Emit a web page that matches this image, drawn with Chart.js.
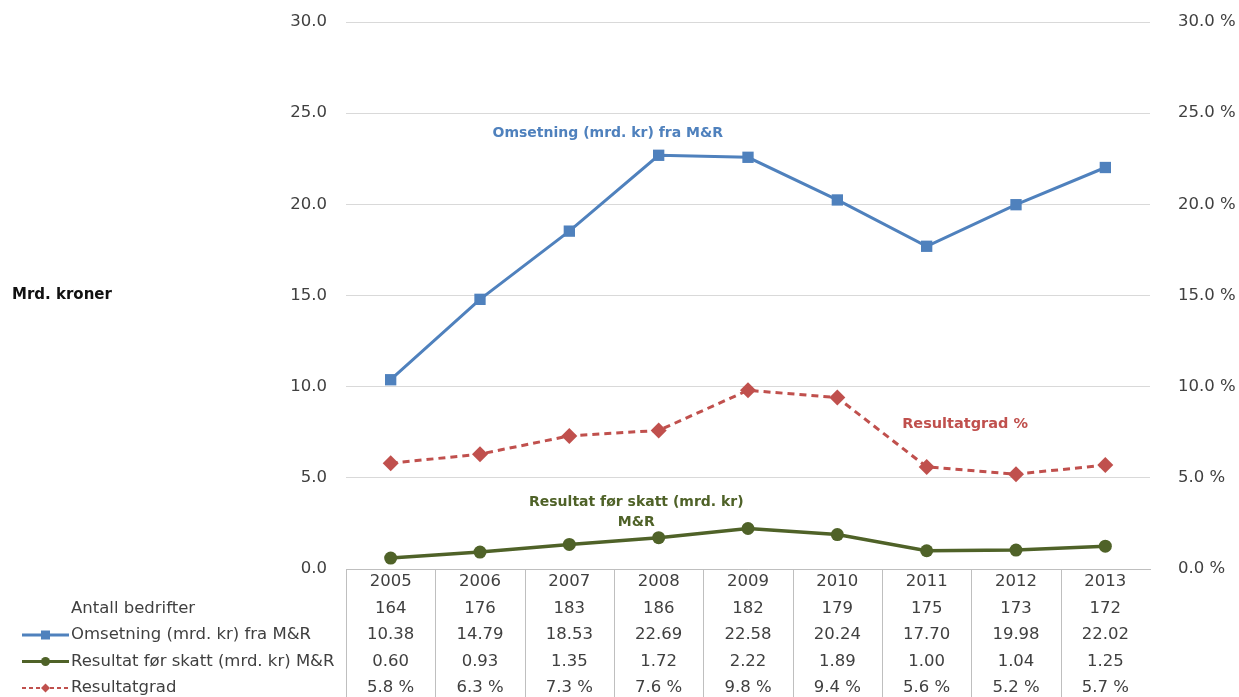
<!DOCTYPE html>
<html>
<head>
<meta charset="utf-8">
<script src="https://cdn.jsdelivr.net/npm/chart.js@4.4.1/dist/chart.umd.min.js"></script>
<style>
  html, body { margin: 0; padding: 0; background: #fff; }
  #wrap { width: 1239px; height: 697px; }
</style>
</head>
<body>
<div id="wrap"><canvas id="myChart" width="1239" height="697"></canvas></div>
<script>
  let years = ["2005", "2006", "2007", "2008", "2009", "2010", "2011", "2012", "2013"];
  let antall = [164, 176, 183, 186, 182, 179, 175, 173, 172];
  let omsetning = [10.38, 14.79, 18.53, 22.69, 22.58, 20.24, 17.70, 19.98, 22.02];
  let resultat = [0.60, 0.93, 1.35, 1.72, 2.22, 1.89, 1.00, 1.04, 1.25];
  let resultatgrad = [5.8, 6.3, 7.3, 7.6, 9.8, 9.4, 5.6, 5.2, 5.7];

  let blue = "#4f81bd";
  let green = "#4f6228";
  let red = "#c0504d";
  let textColor = "#404040";
  let fontFamily = "'DejaVu Sans', sans-serif";

  // table under the plot + series labels inside the plot
  let tablePlugin = {
    id: "tablePlugin",
    afterDraw(chart) {
      let ctx = chart.ctx;
      let x = chart.scales.x;
      let y = chart.scales.y;
      let area = chart.chartArea;
      let step = x.getPixelForValue(1) - x.getPixelForValue(0);
      ctx.save();

      // column separators
      ctx.strokeStyle = "#bfbfbf";
      ctx.lineWidth = 1;
      for (let i = 0; i < years.length; i++) {
        let lx = Math.round(x.getPixelForValue(i) - step / 2) + 0.5;
        ctx.beginPath();
        ctx.moveTo(lx, area.bottom);
        ctx.lineTo(lx, chart.height);
        ctx.stroke();
      }

      let rows = [
        { label: "", values: years },
        { label: "Antall bedrifter", values: antall.map(String) },
        { label: "Omsetning (mrd. kr) fra M&R", values: omsetning.map(v => v.toFixed(2)), key: "square", color: blue },
        { label: "Resultat før skatt (mrd. kr) M&R", values: resultat.map(v => v.toFixed(2)), key: "circle", color: green },
        { label: "Resultatgrad", values: resultatgrad.map(v => v.toFixed(1) + " %"), key: "diamond", color: red }
      ];
      ctx.font = "16.5px " + fontFamily;
      ctx.fillStyle = textColor;
      ctx.textBaseline = "middle";
      rows.forEach((row, r) => {
        let ry = area.bottom + 13 + r * 26.5;
        ctx.textAlign = "center";
        ctx.fillStyle = textColor;
        row.values.forEach((v, i) => ctx.fillText(v, x.getPixelForValue(i), ry));
        ctx.textAlign = "left";
        ctx.fillText(row.label, 71, ry);
        if (row.key) {
          ctx.strokeStyle = row.color;
          ctx.fillStyle = row.color;
          ctx.lineWidth = row.key === "diamond" ? 2 : 3;
          ctx.setLineDash(row.key === "diamond" ? [4, 3] : []);
          ctx.beginPath();
          ctx.moveTo(22, ry);
          ctx.lineTo(69, ry);
          ctx.stroke();
          ctx.setLineDash([]);
          ctx.beginPath();
          if (row.key === "square") {
            ctx.rect(41, ry - 4.5, 9, 9);
          } else if (row.key === "circle") {
            ctx.arc(45.5, ry, 4.5, 0, Math.PI * 2);
          } else {
            ctx.moveTo(45.5, ry - 4.5);
            ctx.lineTo(50, ry);
            ctx.lineTo(45.5, ry + 4.5);
            ctx.lineTo(41, ry);
            ctx.closePath();
          }
          ctx.fill();
        }
      });

      // axis title
      ctx.fillStyle = "#111";
      ctx.font = "bold 15px " + fontFamily;
      ctx.textAlign = "left";
      ctx.fillText("Mrd. kroner", 12, y.getPixelForValue(15));

      // series labels
      ctx.textAlign = "center";
      ctx.font = "bold 14px " + fontFamily;
      ctx.fillStyle = blue;
      ctx.fillText("Omsetning (mrd. kr) fra M&R", x.getPixelForValue(2.43), y.getPixelForValue(23.9));
      ctx.fillStyle = red;
      ctx.font = "bold 14.5px " + fontFamily;
      ctx.fillText("Resultatgrad %", x.getPixelForValue(6.43), y.getPixelForValue(7.95));
      ctx.fillStyle = green;
      ctx.font = "bold 14px " + fontFamily;
      ctx.fillText("Resultat før skatt (mrd. kr)", x.getPixelForValue(2.75), y.getPixelForValue(3.67));
      ctx.fillText("M&R", x.getPixelForValue(2.75), y.getPixelForValue(2.58));
      ctx.restore();
    }
  };

  // keep tick padding from pushing the plot area down
  function fixVertical(width) {
    return function (scale) {
      scale.width = width;
      scale.paddingTop = 0;
      scale.paddingBottom = 0;
    };
  }

  let ctx = document.getElementById("myChart").getContext("2d");
  let chart = new Chart(ctx, {
    type: "line",
    data: {
      labels: years,
      datasets: [
        {
          label: "Omsetning (mrd. kr) fra M&R",
          data: omsetning,
          yAxisID: "y",
          borderColor: blue,
          backgroundColor: blue,
          borderWidth: 3,
          pointStyle: "rect",
          pointRadius: 8,
          pointBorderWidth: 0
        },
        {
          label: "Resultat før skatt (mrd. kr) M&R",
          data: resultat,
          yAxisID: "y",
          borderColor: green,
          backgroundColor: green,
          borderWidth: 3.5,
          pointStyle: "circle",
          pointRadius: 6.5,
          pointBorderWidth: 0
        },
        {
          label: "Resultatgrad",
          data: resultatgrad,
          yAxisID: "y1",
          borderColor: red,
          backgroundColor: red,
          borderWidth: 3,
          borderDash: [7, 5],
          pointStyle: "rectRot",
          pointRadius: 8,
          pointBorderWidth: 0
        }
      ]
    },
    options: {
      responsive: false,
      animation: false,
      layout: { padding: { top: 22, bottom: 0, left: 0, right: 0 } },
      plugins: {
        legend: { display: false },
        tooltip: { enabled: false }
      },
      scales: {
        x: {
          offset: true,
          grid: { display: false, drawTicks: false },
          border: { color: "#bfbfbf" },
          ticks: { display: false },
          afterFit(scale) { scale.height = 128; }
        },
        y: {
          position: "left",
          min: 0,
          max: 30,
          ticks: {
            stepSize: 5,
            padding: 19,
            color: textColor,
            font: { size: 16.5, family: fontFamily },
            callback: v => v.toFixed(1)
          },
          grid: { color: "#d9d9d9", drawTicks: false },
          border: { display: false },
          afterFit: fixVertical(346)
        },
        y1: {
          position: "right",
          min: 0,
          max: 30,
          ticks: {
            stepSize: 5,
            padding: 28,
            color: textColor,
            font: { size: 16.5, family: fontFamily },
            callback: v => v.toFixed(1) + " %"
          },
          grid: { display: false, drawTicks: false },
          border: { display: false },
          afterFit: fixVertical(89)
        }
      }
    },
    plugins: [tablePlugin]
  });
</script>
</body>
</html>
